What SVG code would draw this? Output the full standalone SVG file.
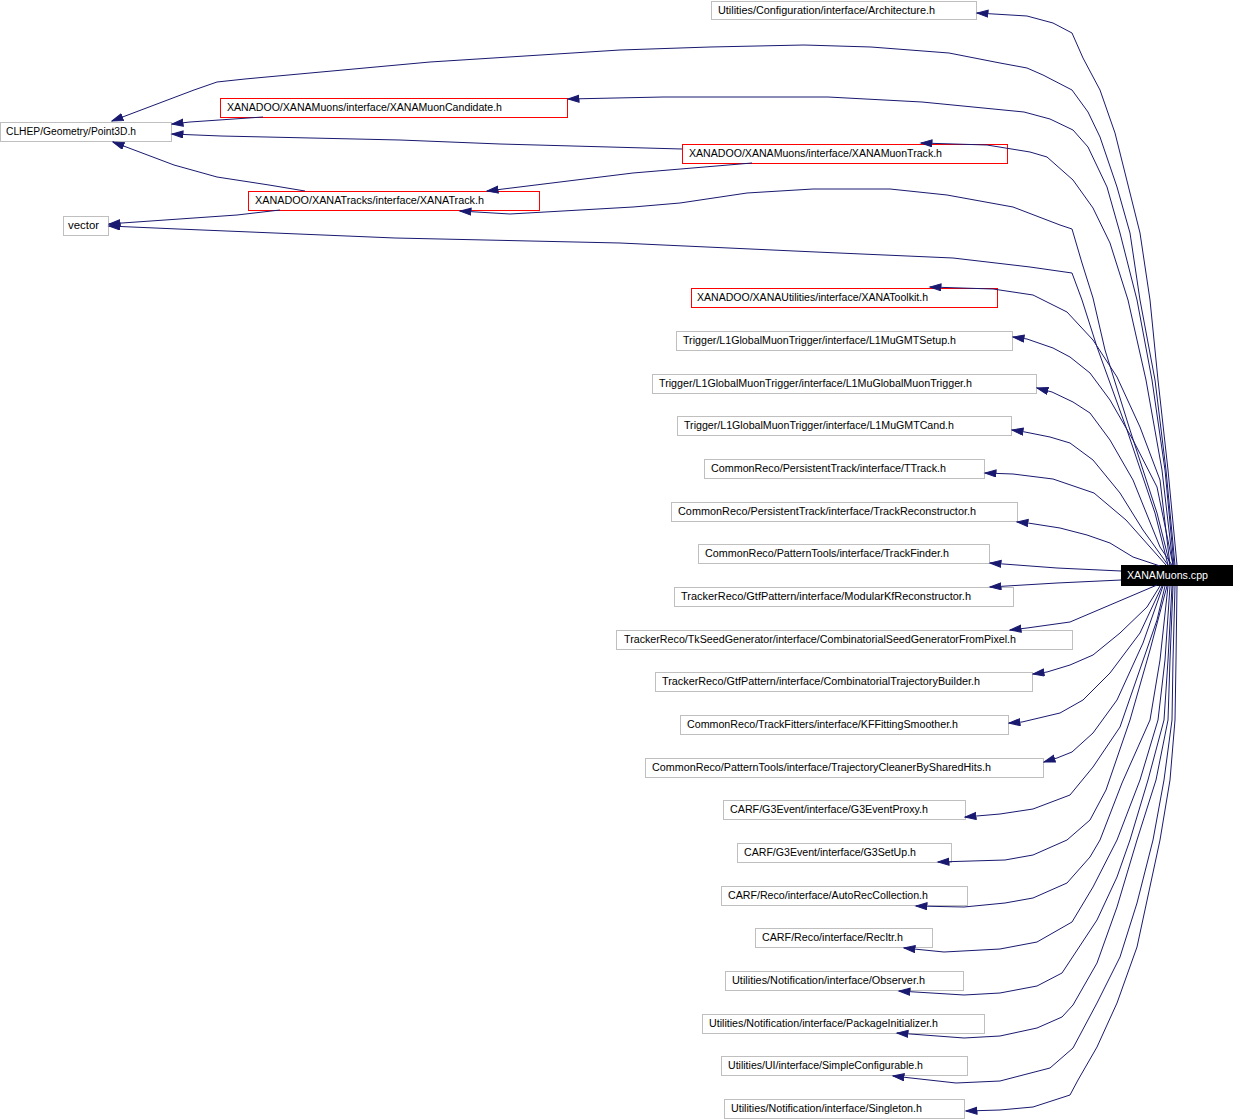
<svg xmlns="http://www.w3.org/2000/svg" width="1234" height="1120" viewBox="0 0 1234 1120">
<style>
.e{fill:none;stroke:#191970;stroke-width:1;stroke-linejoin:round;marker-end:url(#ah)}
.n rect{fill:#ffffff;stroke:#bfbfbf;stroke-width:1}
.r rect{fill:#ffffff;stroke:#ff0000;stroke-width:1}
.k rect{fill:#000000;stroke:#000000;stroke-width:1}
text{font-family:"Liberation Sans",Arial,Helvetica,sans-serif;font-size:10px;fill:#000000}
.k text{fill:#ffffff}
</style>
<defs>
<marker id="ah" markerUnits="userSpaceOnUse" markerWidth="13" markerHeight="10" refX="11.5" refY="4" orient="auto">
<path d="M0.5,0.5 L11.5,4 L0.5,7.5 z" fill="#191970" stroke="#191970" stroke-width="1"/>
</marker>
</defs>
<rect x="0" y="0" width="1234" height="1120" fill="#ffffff"/>
<g id="node-architecture" class="n"><rect x="711.5" y="1.5" width="265" height="18"/><text x="718" y="14" textLength="217" lengthAdjust="spacingAndGlyphs">Utilities/Configuration/interface/Architecture.h</text></g>
<g id="node-xanamuoncandidate" class="r"><rect x="220.5" y="98.5" width="347" height="19"/><text x="227" y="111" textLength="275" lengthAdjust="spacingAndGlyphs">XANADOO/XANAMuons/interface/XANAMuonCandidate.h</text></g>
<g id="node-point3d" class="n"><rect x="0.5" y="122.5" width="171" height="19"/><text x="6" y="135" textLength="130" lengthAdjust="spacingAndGlyphs">CLHEP/Geometry/Point3D.h</text></g>
<g id="node-xanamuontrack" class="r"><rect x="682.5" y="144.5" width="325" height="19"/><text x="689" y="157" textLength="253" lengthAdjust="spacingAndGlyphs">XANADOO/XANAMuons/interface/XANAMuonTrack.h</text></g>
<g id="node-xanatrack" class="r"><rect x="248.5" y="191.5" width="291" height="19"/><text x="255" y="204" textLength="229" lengthAdjust="spacingAndGlyphs">XANADOO/XANATracks/interface/XANATrack.h</text></g>
<g id="node-vector" class="n"><rect x="63.5" y="216.5" width="45" height="19"/><text x="68" y="229" textLength="31" lengthAdjust="spacingAndGlyphs">vector</text></g>
<g id="node-xanatoolkit" class="r"><rect x="691.5" y="288.5" width="306" height="19"/><text x="697" y="301" textLength="231" lengthAdjust="spacingAndGlyphs">XANADOO/XANAUtilities/interface/XANAToolkit.h</text></g>
<g id="node-l1mugmtsetup" class="n"><rect x="676.5" y="331.5" width="336" height="19"/><text x="683" y="344" textLength="273" lengthAdjust="spacingAndGlyphs">Trigger/L1GlobalMuonTrigger/interface/L1MuGMTSetup.h</text></g>
<g id="node-l1muglobalmuontrigger" class="n"><rect x="652.5" y="374.5" width="384" height="19"/><text x="659" y="387" textLength="313" lengthAdjust="spacingAndGlyphs">Trigger/L1GlobalMuonTrigger/interface/L1MuGlobalMuonTrigger.h</text></g>
<g id="node-l1mugmtcand" class="n"><rect x="677.5" y="416.5" width="334" height="19"/><text x="684" y="429" textLength="270" lengthAdjust="spacingAndGlyphs">Trigger/L1GlobalMuonTrigger/interface/L1MuGMTCand.h</text></g>
<g id="node-ttrack" class="n"><rect x="704.5" y="459.5" width="280" height="19"/><text x="711" y="472" textLength="235" lengthAdjust="spacingAndGlyphs">CommonReco/PersistentTrack/interface/TTrack.h</text></g>
<g id="node-trackreconstructor" class="n"><rect x="671.5" y="502.5" width="346" height="19"/><text x="678" y="515" textLength="298" lengthAdjust="spacingAndGlyphs">CommonReco/PersistentTrack/interface/TrackReconstructor.h</text></g>
<g id="node-trackfinder" class="n"><rect x="698.5" y="544.5" width="291" height="19"/><text x="705" y="557" textLength="244" lengthAdjust="spacingAndGlyphs">CommonReco/PatternTools/interface/TrackFinder.h</text></g>
<g id="node-modularkf" class="n"><rect x="674.5" y="587.5" width="339" height="19"/><text x="681" y="600" textLength="290" lengthAdjust="spacingAndGlyphs">TrackerReco/GtfPattern/interface/ModularKfReconstructor.h</text></g>
<g id="node-combseed" class="n"><rect x="616.5" y="630.5" width="456" height="19"/><text x="624" y="643" textLength="392" lengthAdjust="spacingAndGlyphs">TrackerReco/TkSeedGenerator/interface/CombinatorialSeedGeneratorFromPixel.h</text></g>
<g id="node-combtraj" class="n"><rect x="655.5" y="672.5" width="377" height="19"/><text x="662" y="685" textLength="318" lengthAdjust="spacingAndGlyphs">TrackerReco/GtfPattern/interface/CombinatorialTrajectoryBuilder.h</text></g>
<g id="node-kffitting" class="n"><rect x="680.5" y="715.5" width="328" height="19"/><text x="687" y="728" textLength="271" lengthAdjust="spacingAndGlyphs">CommonReco/TrackFitters/interface/KFFittingSmoother.h</text></g>
<g id="node-trajcleaner" class="n"><rect x="645.5" y="758.5" width="398" height="19"/><text x="652" y="771" textLength="339" lengthAdjust="spacingAndGlyphs">CommonReco/PatternTools/interface/TrajectoryCleanerBySharedHits.h</text></g>
<g id="node-g3eventproxy" class="n"><rect x="723.5" y="800.5" width="242" height="19"/><text x="730" y="813" textLength="198" lengthAdjust="spacingAndGlyphs">CARF/G3Event/interface/G3EventProxy.h</text></g>
<g id="node-g3setup" class="n"><rect x="737.5" y="843.5" width="214" height="19"/><text x="744" y="856" textLength="172" lengthAdjust="spacingAndGlyphs">CARF/G3Event/interface/G3SetUp.h</text></g>
<g id="node-autoreccollection" class="n"><rect x="721.5" y="886.5" width="246" height="19"/><text x="728" y="899" textLength="200" lengthAdjust="spacingAndGlyphs">CARF/Reco/interface/AutoRecCollection.h</text></g>
<g id="node-recitr" class="n"><rect x="755.5" y="928.5" width="177" height="19"/><text x="762" y="941" textLength="141" lengthAdjust="spacingAndGlyphs">CARF/Reco/interface/RecItr.h</text></g>
<g id="node-observer" class="n"><rect x="725.5" y="971.5" width="238" height="19"/><text x="732" y="984" textLength="193" lengthAdjust="spacingAndGlyphs">Utilities/Notification/interface/Observer.h</text></g>
<g id="node-packageinitializer" class="n"><rect x="702.5" y="1014.5" width="282" height="19"/><text x="709" y="1027" textLength="229" lengthAdjust="spacingAndGlyphs">Utilities/Notification/interface/PackageInitializer.h</text></g>
<g id="node-simpleconfigurable" class="n"><rect x="721.5" y="1056.5" width="246" height="19"/><text x="728" y="1069" textLength="195" lengthAdjust="spacingAndGlyphs">Utilities/UI/interface/SimpleConfigurable.h</text></g>
<g id="node-singleton" class="n"><rect x="724.5" y="1099.5" width="240" height="19"/><text x="731" y="1112" textLength="191" lengthAdjust="spacingAndGlyphs">Utilities/Notification/interface/Singleton.h</text></g>
<g id="node-xanamuons-cpp" class="k"><rect x="1121.5" y="565.5" width="111" height="20"/><text x="1127" y="579" textLength="81" lengthAdjust="spacingAndGlyphs">XANAMuons.cpp</text></g>
<g id="edges">
<path class="e" d="M1177,565 L1168,470 L1158,380 L1150,300 L1140,233 L1130,193 L1115,133 L1100,90 L1083,58 L1072,33 L1053,23 L1027,16 L977,13"/>
<path class="e" d="M1175,565 L1166,470 L1155,380 L1140,300 L1130,233 L1117,187 L1100,137 L1088,112 L1072,90 L1043,75 L1027,68 L1000,63 L949,53 L871,47 L804,45 L710,47 L620,50 L430,62 L245,79 L217,82 L194,90 L112,121"/>
<path class="e" d="M1174,565 L1165,470 L1152,380 L1137,300 L1120,233 L1107,187 L1088,147 L1073,130 L1050,119 L1024,112 L922,102 L828,97 L663,97 L568,99"/>
<path class="e" d="M1173,565 L1162,470 L1146,380 L1128,300 L1110,243 L1093,208 L1073,180 L1047,157 L1030,152 L987,145 L921,143"/>
<path class="e" d="M1170,565 L1157,513 L1130,430 L1105,350 L1093,298 L1082,263 L1072,229 L1060,225 L1013,207 L947,195 L890,189 L813,189 L747,193 L680,203 L633,207 L510,214 L460,211"/>
<path class="e" d="M1168,565 L1155,513 L1127,430 L1097,347 L1082,300 L1072,273 L1030,267 L953,258 L816,252 L663,245 L620,243 L395,238 L178,229 L109,226"/>
<path class="e" d="M1170,565 L1160,480 L1140,427 L1117,377 L1093,340 L1067,312 L1033,295 L993,289 L930,287"/>
<path class="e" d="M1173,565 L1157,487 L1133,440 L1110,400 L1090,373 L1070,357 L1053,348 L1027,339 L1013,337"/>
<path class="e" d="M1172,565 L1160,547 L1133,480 L1110,440 L1090,413 L1073,402 L1052,392 L1037,388"/>
<path class="e" d="M1168,565 L1143,530 L1120,493 L1093,460 L1070,443 L1050,437 L1025,432 L1012,430"/>
<path class="e" d="M1166,565 L1126,520 L1094,493 L1053,479 L1013,474 L985,473"/>
<path class="e" d="M1160,566 L1133,557 L1110,543 L1087,535 L1060,528 L1028,523 L1017,522"/>
<path class="e" d="M1121,571 L1057,568 L990,563"/>
<path class="e" d="M1121,580 L1057,583 L990,587"/>
<path class="e" d="M1157,585 L1070,622 L1027,628 L1010,630"/>
<path class="e" d="M1160,586 L1147,607 L1120,633 L1093,655 L1070,665 L1047,672 L1033,674"/>
<path class="e" d="M1162,586 L1140,633 L1110,673 L1083,700 L1060,713 L1022,722 L1009,723"/>
<path class="e" d="M1163,586 L1143,643 L1117,700 L1093,733 L1072,752 L1057,758 L1044,762"/>
<path class="e" d="M1165,586 L1157,620 L1120,727 L1093,767 L1070,795 L1033,809 L1000,814 L965,817"/>
<path class="e" d="M1167,586 L1150,650 L1130,720 L1106,790 L1090,820 L1067,840 L1033,855 L1005,860 L938,862"/>
<path class="e" d="M1168,586 L1160,660 L1150,720 L1122,783 L1100,840 L1090,857 L1067,883 L1033,898 L1005,903 L964,907 L916,906"/>
<path class="e" d="M1170,586 L1165,660 L1158,720 L1140,780 L1117,840 L1093,887 L1072,922 L1037,942 L1000,949 L944,952 L904,948"/>
<path class="e" d="M1172,586 L1168,660 L1164,720 L1148,780 L1130,840 L1117,877 L1097,920 L1062,973 L1037,986 L1000,993 L964,995 L899,991"/>
<path class="e" d="M1173,586 L1170,660 L1168,720 L1156,780 L1137,840 L1117,907 L1097,963 L1073,1005 L1062,1017 L1037,1028 L1000,1036 L964,1038 L897,1033"/>
<path class="e" d="M1175,586 L1173,660 L1172,720 L1164,780 L1153,840 L1137,903 L1120,957 L1097,1003 L1073,1048 L1050,1068 L1000,1081 L956,1083 L893,1076"/>
<path class="e" d="M1177,586 L1176,660 L1175,720 L1170,780 L1160,840 L1137,947 L1117,1003 L1097,1047 L1078,1080 L1070,1095 L1033,1107 L1000,1110 L966,1111"/>
<path class="e" d="M263,117 L190,122 L172,124"/>
<path class="e" d="M682,149 L500,144 L400,140 L221,136 L172,134"/>
<path class="e" d="M752,163 L633,173 L487,191"/>
<path class="e" d="M305,191 L269,185 L217,177 L174,165 L113,142"/>
<path class="e" d="M280,210 L237,215 L122,223 L109,224"/>
</g>
</svg>
